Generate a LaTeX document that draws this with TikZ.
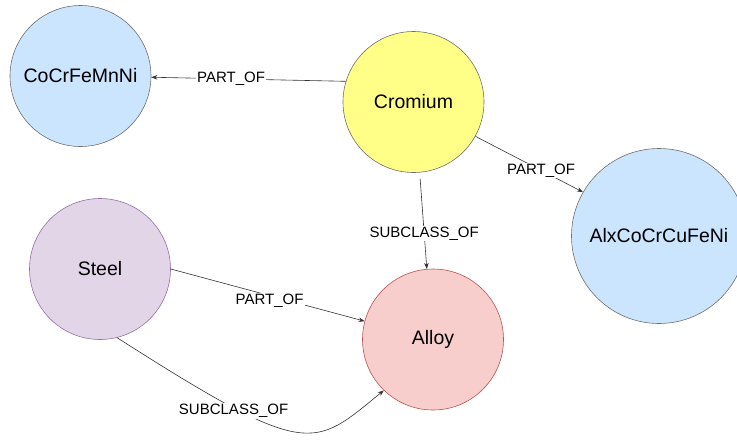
\documentclass[tikz,border=0pt]{standalone}
\usepackage{fontspec}
\setmainfont{Liberation Sans}
\usetikzlibrary{arrows.meta}

\definecolor{ballblue}{HTML}{CCE5FF}
\definecolor{ballyellow}{HTML}{FFFF88}
\definecolor{ballpurple}{HTML}{E1D5E7}
\definecolor{ballred}{HTML}{F8CECC}
\definecolor{rimgrey}{HTML}{6F6F6F}
\definecolor{rimpurple}{HTML}{9673A6}
\definecolor{rimred}{HTML}{B85450}

\begin{document}
\begin{tikzpicture}[x=1pt, y=-1pt,
    ball/.style={circle, draw=#1, line width=0.6pt, minimum size=141pt, inner sep=0pt,
      font=\fontsize{19.5}{22}\selectfont},
    rel/.style={draw=black!80, line width=0.6pt, -{Stealth[length=6pt, width=4.5pt]}},
    tag/.style={fill=white, inner sep=1pt, font=\fontsize{15}{18}\selectfont}]
    \useasboundingbox (0,0) rectangle (737,440);

    \node[ball=rimgrey, fill=ballblue] (cocr) at (80.5,76) {CoCrFeMnNi};
    \node[ball=rimgrey, fill=ballyellow] (crom) at (413.5,102) {Cromium};
    \node[ball=rimgrey, fill=ballblue, minimum size=175pt] (alx) at (659,236) {AlxCoCrCuFeNi};
    \node[ball=rimpurple, fill=ballpurple] (steel) at (100,269) {Steel};
    \node[ball=rimred, fill=ballred] (alloy) at (433,339.5) {Alloy};

    \draw[rel] (crom.163.5) -- (cocr.-1) node[tag, pos=0.59] {PART\_OF};
    \draw[rel] (crom.-29.3) -- (alx.150) node[tag, pos=0.61] {PART\_OF};
    \draw[rel, shorten <=6pt] (crom.-85) -- (alloy.95) node[tag, pos=0.63] {SUBCLASS\_OF};
    \draw[rel] (steel.0) -- (alloy.165) node[tag, pos=0.51, yshift=-5pt] {PART\_OF};
    \draw[rel] (steel.-76) .. controls (310,461) and (313,448) .. (alloy.-134)
        node[tag, pos=0.26, yshift=-3pt] {SUBCLASS\_OF};
\end{tikzpicture}
\end{document}
